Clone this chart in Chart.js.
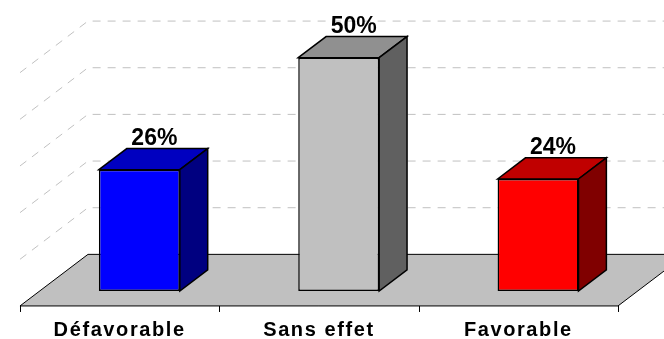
<!DOCTYPE html>
<html>
<head>
<meta charset="utf-8">
<script src="https://cdn.jsdelivr.net/npm/chart.js@4.4.1/dist/chart.umd.min.js"></script>
<style>
  html, body { margin: 0; padding: 0; background: #fff; }
  #wrap { width: 664px; height: 339px; }
</style>
</head>
<body>
<div id="wrap"><canvas id="chart"></canvas></div>
<script>
const categories = ['Défavorable', 'Sans effet', 'Favorable'];
const shares = [26, 50, 24];
const gridValues = [10, 20, 30, 40, 50];
const frontColors = ['#0000ff', '#c0c0c0', '#ff0000'];
const topColors = ['#0000c0', '#909090', '#c00000'];
const sideColors = ['#000080', '#606060', '#800000'];

// depth of the floor (front edge -> back wall) and where the bars sit inside it
const DEPTH = { dx: 68, dy: -51.6 };
const BAR_FRONT = 0.29;
const BAR_BACK = 0.70;

const box3d = {
  id: 'box3d',
  beforeDraw(chart) {
    chart.ctx.letterSpacing = '1.6px';
  },
  beforeDatasetsDraw(chart) {
    const ctx = chart.ctx;
    const area = chart.chartArea;
    const y = chart.scales.y;
    const fx = -BAR_FRONT * DEPTH.dx, fy = -BAR_FRONT * DEPTH.dy;
    const bx = (1 - BAR_FRONT) * DEPTH.dx, by = (1 - BAR_FRONT) * DEPTH.dy;
    const left = area.left + fx, right = area.right + fx;
    const base = y.getPixelForValue(0);

    ctx.save();
    ctx.letterSpacing = '0px';

    // walls: dashed lines on the left side and along the back
    ctx.strokeStyle = '#c0c0c0';
    ctx.lineWidth = 1;
    ctx.setLineDash([8, 7]);
    gridValues.forEach(v => {
      const py = y.getPixelForValue(v);
      ctx.beginPath();
      ctx.moveTo(left, py + fy);
      ctx.lineTo(area.left + bx, py + by);
      ctx.lineTo(area.right + bx, py + by);
      ctx.stroke();
    });
    ctx.setLineDash([]);

    // floor
    ctx.beginPath();
    ctx.moveTo(left, base + fy);
    ctx.lineTo(right, base + fy);
    ctx.lineTo(right + DEPTH.dx, base + fy + DEPTH.dy);
    ctx.lineTo(left + DEPTH.dx, base + fy + DEPTH.dy);
    ctx.closePath();
    ctx.fillStyle = '#c0c0c0';
    ctx.fill();
    ctx.strokeStyle = '#000';
    ctx.lineWidth = 1;
    ctx.stroke();

    // category tick marks under the front edge
    const step = (right - left) / categories.length;
    ctx.beginPath();
    for (let i = 0; i <= categories.length; i++) {
      const tx = Math.round(left + i * step) + 0.5;
      ctx.moveTo(tx, base + fy);
      ctx.lineTo(tx, base + fy + 6);
    }
    ctx.stroke();
    ctx.restore();
  },
  afterDatasetsDraw(chart) {
    const ctx = chart.ctx;
    const meta = chart.getDatasetMeta(0);
    const ddx = (BAR_BACK - BAR_FRONT) * DEPTH.dx;
    const ddy = (BAR_BACK - BAR_FRONT) * DEPTH.dy;

    ctx.save();
    ctx.letterSpacing = '0px';
    ctx.lineWidth = 1.5;
    ctx.strokeStyle = '#000';
    ctx.lineJoin = 'miter';
    meta.data.forEach((bar, i) => {
      const p = bar.getProps(['x', 'y', 'base', 'width'], true);
      const l = p.x - p.width / 2, r = p.x + p.width / 2;

      // top face
      ctx.beginPath();
      ctx.moveTo(l, p.y);
      ctx.lineTo(l + ddx, p.y + ddy);
      ctx.lineTo(r + ddx, p.y + ddy);
      ctx.lineTo(r, p.y);
      ctx.closePath();
      ctx.fillStyle = topColors[i];
      ctx.fill();
      ctx.stroke();

      // right side face
      ctx.beginPath();
      ctx.moveTo(r, p.y);
      ctx.lineTo(r + ddx, p.y + ddy);
      ctx.lineTo(r + ddx, p.base + ddy);
      ctx.lineTo(r, p.base);
      ctx.closePath();
      ctx.fillStyle = sideColors[i];
      ctx.fill();
      ctx.stroke();

      // value label above the box
      ctx.fillStyle = '#000';
      ctx.font = 'bold 23px "Liberation Sans", Arial, sans-serif';
      ctx.textAlign = 'center';
      ctx.textBaseline = 'alphabetic';
      ctx.fillText(shares[i] + '%', p.x + 15, p.y + ddy - 4);
    });
    ctx.restore();
  }
};

new Chart(document.getElementById('chart'), {
  type: 'bar',
  data: {
    labels: categories,
    datasets: [{
      data: shares,
      backgroundColor: frontColors,
      borderColor: '#000',
      borderWidth: 1.5,
      borderSkipped: false,
      categoryPercentage: 1,
      barPercentage: 0.406
    }]
  },
  options: {
    responsive: true,
    maintainAspectRatio: false,
    animation: false,
    events: [],
    layout: { padding: { left: 39.7, right: 26.3, top: 57.7, bottom: 0 } },
    plugins: { legend: { display: false }, tooltip: { enabled: false } },
    scales: {
      y: { min: 0, max: 50, display: false },
      x: {
        grid: { display: false, drawTicks: false },
        border: { display: false },
        afterFit: s => { s.height = 48; },
        ticks: {
          color: '#000',
          font: { family: '"Liberation Sans", Arial, sans-serif', weight: 'bold', size: 20 },
          labelOffset: -19.7,
          padding: 27,
          maxRotation: 0,
          autoSkip: false
        }
      }
    }
  },
  plugins: [box3d]
});
</script>
</body>
</html>
